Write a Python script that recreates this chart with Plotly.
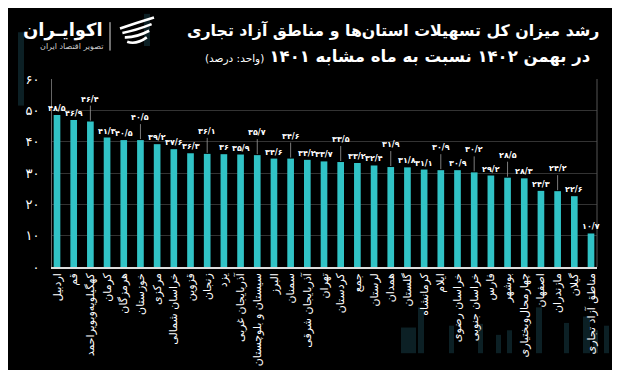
import plotly.graph_objects as go

categories = ["اردبیل", "قم", "کهگیلویه‌وبویراحمد", "کرمان", "هرمزگان", "خوزستان", "مرکزی",
              "خراسان شمالی", "قزوین", "زنجان", "یزد", "آذربایجان غربی", "سیستان و بلوچستان",
              "البرز", "سمنان", "آذربایجان شرقی", "تهران", "کردستان", "جمع", "لرستان", "همدان",
              "گلستان", "کرمانشاه", "ایلام", "خراسان رضوی", "خراسان جنوبی", "فارس", "بوشهر",
              "چهارمحال‌وبختیاری", "اصفهان", "مازندران", "گیلان", "مناطق آزاد تجاری"]
values = [48.5, 46.9, 46.4, 41.3, 40.5, 40.5, 39.2, 37.6, 36.3, 36.1, 36.0, 35.9, 35.7,
          34.6, 34.6, 34.2, 33.7, 33.5, 33.2, 32.4, 31.9, 31.8, 31.1, 30.9, 30.9, 30.2,
          29.2, 28.5, 28.3, 24.3, 24.2, 22.6, 10.7]
raised = [2, 5, 9, 12, 14, 17, 20, 23, 25, 27, 30]
y_ticks = [0, 10, 20, 30, 40, 50, 60]

FA = str.maketrans("0123456789.", "۰۱۲۳۴۵۶۷۸۹/")


def fa(v):
    s = ("%.1f" % v).rstrip("0").rstrip(".")
    return s.translate(FA)


BAR = "#31c3c6"
FONT = "DejaVu Sans"
x_idx = list(range(len(categories)))

L, R, T, B = 44, 31, 71, 94
PW, PH = 620 - L - R, 370 - T - B


def px(x):
    return (x - L) / PW


def py(y):
    return (370 - B - y) / PH


fig = go.Figure()
fig.add_trace(go.Bar(x=x_idx, y=values, marker_color=BAR, width=0.4,
                     marker_line_width=0, hoverinfo="skip"))

ann = []
for i, v in enumerate(values):
    f = dict(color="white", size=8, family=FONT)
    if i in raised:
        ann.append(dict(x=i, y=v, xref="x", yref="y", text="<b>%s</b>" % fa(v), showarrow=True,
                        arrowhead=0, arrowwidth=0.8, arrowcolor="#9a9a9a", ax=0, ay=-16,
                        standoff=1, font=f, yanchor="bottom"))
    else:
        ann.append(dict(x=i, y=v, xref="x", yref="y", text="<b>%s</b>" % fa(v), showarrow=False,
                        yanchor="bottom", yshift=0, font=f))

# title
ann.append(dict(xref="paper", yref="paper", x=px(385), y=py(18),
                xanchor="center", yanchor="middle", showarrow=False,
                text="<b>رشد میزان کل تسهیلات استان‌ها و مناطق آزاد تجاری</b>",
                font=dict(color="white", size=15.8, family=FONT)))
ann.append(dict(xref="paper", yref="paper", x=px(389), y=py(47),
                xanchor="center", yanchor="middle", showarrow=False,
                text="<b>در بهمن ۱۴۰۲ نسبت به ماه مشابه ۱۴۰۱</b> <span style='font-size:10.5px'>(واحد: درصد)</span>",
                font=dict(color="white", size=16.5, family=FONT)))
# logo text
ann.append(dict(xref="paper", yref="paper", x=px(97), y=py(18),
                xanchor="right", yanchor="middle", showarrow=False,
                text="<b>اکوایـران</b>", font=dict(color="white", size=18, family=FONT)))
ann.append(dict(xref="paper", yref="paper", x=px(97), y=py(36),
                xanchor="right", yanchor="middle", showarrow=False,
                text="تصویر اقتصاد ایران", font=dict(color="#cccccc", size=8, family=FONT)))

shapes = []
# decorative faint background stripes
deco = [(10, 16, 20, 100), (136, 142, 0, 35), (393, 408, 342, 370), (410, 416, 320, 370),
        (441, 446, 340, 370), (470, 475, 338, 370), (488, 493, 350, 370), (499, 504, 345, 370),
        (528, 534, 320, 370), (556, 561, 337, 370), (585, 590, 345, 370), (596, 601, 340, 370),
        (605, 612, 275, 370), (575, 582, 330, 370)]
for x0, x1, y0, y1 in deco:
    shapes.append(dict(type="rect", xref="paper", yref="paper", layer="below",
                       x0=px(x0), x1=px(x1), y0=py(y1), y1=py(y0),
                       fillcolor="rgba(22,58,68,0.55)", line_width=0))
# logo separator
shapes.append(dict(type="line", xref="paper", yref="paper",
                   x0=px(102), x1=px(102), y0=py(40), y1=py(9),
                   line=dict(color="#dddddd", width=1)))
# logo icon: rounded emblem with slanted swooshes
for k in range(4):
    o = k * 8
    shapes.append(dict(type="path", xref="paper", yref="paper",
                       path="M %f %f Q %f %f %f %f" % (
                           px(112 + o * 0.3), py(22 + o * 0.6 - 6),
                           px(128), py(10 + o),
                           px(146 - o * 0.3), py(4 + o * 0.9)),
                       line=dict(color="white", width=2.6)))
# frame right
shapes.append(dict(type="line", xref="paper", yref="paper", x0=1, x1=1, y0=0, y1=1,
                   line=dict(color="#555555", width=1)))

fig.update_layout(
    width=620, height=370,
    margin=dict(l=L, r=R, t=T, b=B),
    paper_bgcolor="black", plot_bgcolor="black",
    showlegend=False,
    annotations=ann, shapes=shapes,
    xaxis=dict(range=[-0.3, 32.36], tickmode="array", tickvals=x_idx, ticktext=categories,
               tickangle=-90, tickfont=dict(color="white", size=11, family=FONT),
               showgrid=False, zeroline=False, showline=True, linecolor="#dddddd",
               linewidth=1.5, ticks="", fixedrange=True),
    yaxis=dict(range=[0, 60], tickmode="array", tickvals=y_ticks,
               ticktext=[fa(t) for t in y_ticks],
               tickfont=dict(color="white", size=13, family=FONT),
               showgrid=True, gridcolor="#333333", gridwidth=1, zeroline=False,
               showline=True, linecolor="#666666", ticks="", ticklabelstandoff=9,
               fixedrange=True),
)

fig.write_html("out.html")
